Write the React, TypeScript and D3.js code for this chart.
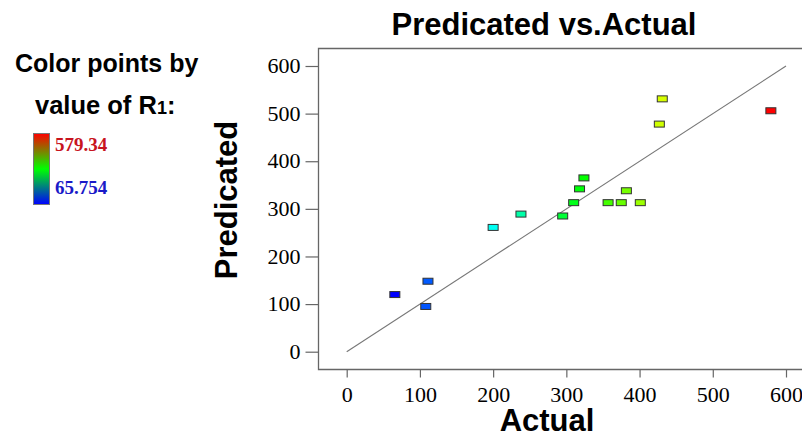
import { useEffect, useRef } from "react";
import * as d3 from "d3";

const actual = [65.754, 111, 108, 200, 238, 295, 310, 318, 324, 357, 375, 382, 401, 427, 431, 579.34];
const predicted = [120, 148, 95, 261, 289, 285, 313, 342, 365, 313, 313, 338, 313, 478, 531, 506];
const axisTicks = [0, 100, 200, 300, 400, 500, 600];
const r1Range = [65.754, 579.34];

const W = 802;
const H = 432;
const plot = { left: 318.5, top: 48.5, bottom: 369.5, right: 820 };

const sans = "Arial, 'Liberation Sans', sans-serif";
const serif = "'Times New Roman', 'Liberation Serif', serif";

export default function App() {
  const xAxisRef = useRef<SVGGElement | null>(null);
  const yAxisRef = useRef<SVGGElement | null>(null);

  const x = d3.scaleLinear().domain([0, 600]).range([346.7, 786]);
  const y = d3.scaleLinear().domain([0, 600]).range([351.7, 66]);
  // rainbow blue -> cyan -> green -> yellow -> red
  const hue = d3.scaleLinear().domain(r1Range).range([240, 0]);
  const color = (v: number) => d3.hsl(hue(v), 1, 0.5).formatHex();

  useEffect(() => {
    const gx = d3.select(xAxisRef.current);
    gx.selectAll("*").remove();
    gx.call(d3.axisBottom(x).tickValues(axisTicks).tickSize(8).tickPadding(9));
    gx.select(".domain").remove();
    gx.selectAll("line").attr("stroke", "#666").attr("stroke-width", 1.2);
    gx.selectAll("text")
      .attr("font-family", serif)
      .attr("font-size", 22)
      .attr("fill", "#000");

    const gy = d3.select(yAxisRef.current);
    gy.selectAll("*").remove();
    gy.call(d3.axisLeft(y).tickValues(axisTicks).tickSize(13).tickPadding(5));
    gy.select(".domain").remove();
    gy.selectAll("line").attr("stroke", "#666").attr("stroke-width", 1.2);
    gy.selectAll("text")
      .attr("font-family", serif)
      .attr("font-size", 22)
      .attr("dy", "0.3em")
      .attr("fill", "#000");
  }, []);

  const rw = 10;
  const rh = 6;

  return (
    <div style={{ position: "fixed", left: 0, top: 0 }}>
      <svg width={W} height={H} style={{ display: "block", background: "#fff" }}>
        <defs>
          <linearGradient id="r1grad" x1="0" y1="0" x2="0" y2="1">
            <stop offset="0" stopColor="#ff0000" />
            <stop offset="0.5" stopColor="#00ff00" />
            <stop offset="1" stopColor="#0000ff" />
          </linearGradient>
        </defs>

        {/* legend */}
        <text x={15} y={72} fontFamily={sans} fontWeight="bold" fontSize={25} fill="#000">
          Color points by
        </text>
        <text x={35} y={114} fontFamily={sans} fontWeight="bold" fontSize={25.5} fill="#000">
          value of R<tspan fontSize={18}>1</tspan>:
        </text>
        <rect x={33.5} y={133.5} width={16} height={71} fill="url(#r1grad)" stroke="#777" strokeWidth={1} />
        <text x={55} y={151} fontFamily={serif} fontWeight="bold" fontSize={19} fill="#c8141e">
          {r1Range[1].toFixed(2)}
        </text>
        <text x={55} y={194} fontFamily={serif} fontWeight="bold" fontSize={19} fill="#1a1ac8">
          {r1Range[0].toFixed(3)}
        </text>

        {/* title */}
        <text x={544} y={35} textAnchor="middle" fontFamily={sans} fontWeight="bold" fontSize={31} fill="#000">
          Predicated vs.Actual
        </text>

        {/* frame */}
        <path
          d={`M${plot.right},${plot.top}H${plot.left}V${plot.bottom}H${plot.right}`}
          fill="none"
          stroke="#666"
          strokeWidth={1.3}
        />
        <g ref={xAxisRef} transform={`translate(0,${plot.bottom})`} />
        <g ref={yAxisRef} transform={`translate(${plot.left},0)`} />

        {/* 45 degree reference */}
        <line x1={x(0)} y1={y(0)} x2={x(600)} y2={y(600)} stroke="#777" strokeWidth={1.1} />

        {/* points */}
        {actual.map((a, i) => (
          <rect
            key={i}
            x={x(a) - rw / 2}
            y={y(predicted[i]) - rh / 2}
            width={rw}
            height={rh}
            fill={color(a)}
            stroke="#333"
            strokeWidth={1}
          />
        ))}

        {/* axis titles */}
        <text x={547} y={431} textAnchor="middle" fontFamily={sans} fontWeight="bold" fontSize={31} fill="#000">
          Actual
        </text>
        <text
          transform={`translate(237,200) rotate(-90)`}
          textAnchor="middle"
          fontFamily={sans}
          fontWeight="bold"
          fontSize={31}
          fill="#000"
        >
          Predicated
        </text>
      </svg>
    </div>
  );
}
